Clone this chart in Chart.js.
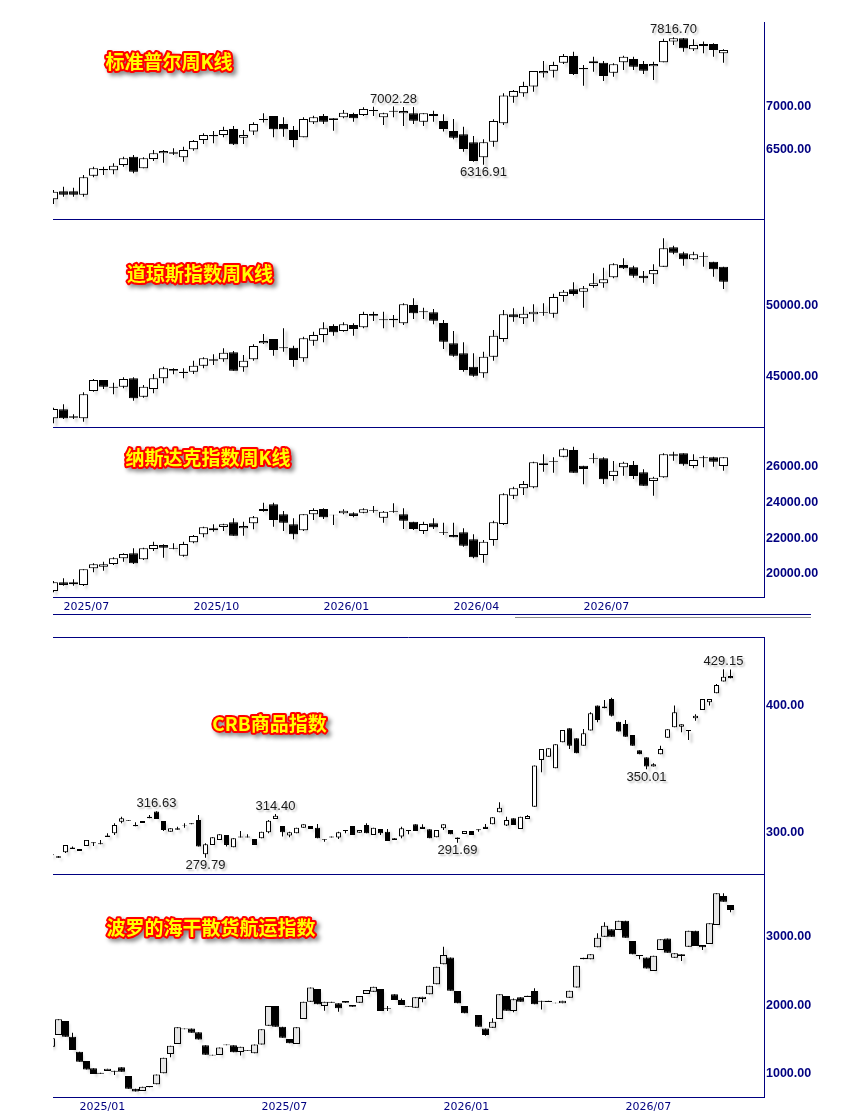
<!DOCTYPE html>
<html>
<head>
<meta charset="utf-8">
<script src="https://cdn.jsdelivr.net/npm/chart.js@4.4.1/dist/chart.umd.min.js"></script>
<style>
  html, body { margin: 0; padding: 0; background: #fff; }
  body { position: relative; width: 842px; height: 1115px; overflow: hidden; }
  canvas { position: absolute; left: 0; }
</style>
</head>
<body>
<canvas id="spx" width="842" height="222" style="top:0px"></canvas>
<canvas id="dow" width="842" height="211" style="top:219px"></canvas>
<canvas id="ndx" width="842" height="195" style="top:427px"></canvas>
<canvas id="crb" width="842" height="252" style="top:625px"></canvas>
<canvas id="bdi" width="842" height="241" style="top:874px"></canvas>
<script>
// ---- weekly candles, top group (same weeks for all three) ----
const spxOpen  = [5909,6003,6003,5964,6187,6266,6250,6313,6411,6274,6384,6450,6462,6403,6497,6607,6666,6666,6737,6635,6706,6843,6890,6796,6725,6639,6815,6890,6863,6874,6914,6902,6949,6874,6941,6921,6921,6823,6914,6831,6713,6674,6580,6403,6588,6804,7118,7157,7236,7393,7424,7518,7597,7455,7534,7518,7400,7522,7561,7503,7475,7522,7766,7805,7675,7715,7738,7628];
const spxHigh  = [6019,6058,6046,6195,6293,6293,6333,6411,6431,6403,6490,6490,6509,6529,6607,6686,6713,6764,6772,6725,6815,6921,6890,6874,6772,6874,6894,6914,6863,6961,6929,6992,6998,6929,7002.28,6995,6995,6921,6953,6910,6855,6764,6655,6615,6851,7157,7196,7294,7420,7538,7530,7620,7648,7491,7589,7538,7510,7601,7589,7538,7530,7800,7816.70,7810,7793,7766,7746,7675];
const spxLow   = [5854,5940,5940,5940,6168,6195,6203,6293,6215,6274,6360,6340,6431,6352,6482,6560,6568,6639,6549,6560,6666,6812,6639,6647,6521,6639,6796,6796,6717,6863,6823,6890,6890,6784,6874,6772,6796,6772,6823,6706,6615,6470,6352,6316.91,6529,6784,7047,7118,7177,7342,7342,7503,7373,7247,7412,7302,7353,7432,7432,7385,7314,7522,7726,7648,7656,7628,7589,7518];
const spxClose = [5999,5964,5964,6168,6274,6250,6305,6391,6234,6391,6450,6478,6446,6490,6596,6666,6651,6725,6556,6666,6796,6855,6733,6733,6607,6855,6874,6823,6843,6929,6863,6973,6961,6921,6953,6949,6835,6921,6890,6737,6635,6501,6360,6580,6831,7130,7185,7243,7420,7420,7491,7597,7385,7440,7510,7361,7499,7589,7471,7424,7503,7773,7805,7687,7726,7738,7667,7667];

const dowOpen  = [42091,42724,42231,42091,44015,44790,44320,44320,44907,43616,44156,44907,45564,45376,45376,45799,46151,46245,46738,45682,46245,47371,47676,47090,47066,46315,47559,47958,48592,48240,48662,48498,49437,48991,49108,48780,50070,49624,49554,48803,47371,46667,45728,45259,46433,47676,49413,49132,49413,49531,49460,50704,51174,51009,51408,51596,52018,52887,52723,52136,52230,52769,54131,53708,53286,53450,53122,52769];
const dowHigh  = [42842,43076,42372,43921,44860,44790,44602,44977,44977,44438,45212,45728,45611,45611,46151,46386,46597,47019,46832,46550,47301,48029,47676,48428,47207,47841,48193,48850,48709,48850,48780,49601,49601,49601,49366,50188,50540,49883,49789,49014,48240,47442,46667,46785,48310,49718,49836,49953,50117,50188,50868,51127,51666,51408,52300,52699,53004,53356,52840,52464,52934,54764,54248,53826,53826,53779,53122,52769];
const dowLow   = [41738,42044,42044,41856,43968,44156,43780,44203,43335,43546,43851,44555,45189,44907,45212,45611,45846,46081,45447,45376,46151,47324,46503,46785,45729,46081,47207,47442,47911,48193,47911,48428,48944,48428,48498,48662,49085,49085,48709,46972,46433,45376,45024,44954,46151,47489,48897,48733,48897,49319,49179,50305,50728,49883,51291,51291,51948,52605,51995,51643,51549,52769,53638,52840,53239,52769,52065,51197];
const dowClose = [42748,42091,42138,43780,44790,44320,44250,44860,43499,44320,44907,45611,45447,45282,45799,46315,46245,46714,45447,46151,47184,47536,46902,47019,46198,47723,47958,48428,48146,48709,48381,49437,49319,49061,48991,50117,49484,49554,48967,47489,46503,45494,45095,46433,47911,49413,49202,49460,49601,49578,50634,51009,50845,51244,51596,51878,52934,52652,52136,51948,52535,54060,53755,53286,53638,53497,52582,51713];

const ndxOpen  = [19047,19533,19533,19383,20318,20412,20561,20879,21159,20823,21402,21627,21421,21028,21776,22224,22561,22636,22897,22561,22841,23533,23907,23346,22785,22449,23346,23645,23327,23402,23402,23440,23570,23159,23477,23346,22935,22411,22841,22337,22187,22337,21944,21066,21907,22804,24393,24804,24860,26206,26318,26579,26953,26075,26486,26486,25495,25981,26112,25701,25215,25421,26710,26766,26056,26486,26542,26056];
const ndxHigh  = [19608,19757,19701,20262,20598,20692,20935,21159,21440,21477,21813,21664,21720,21813,22187,22654,22785,22823,23122,22935,23253,24000,24000,23533,23122,23346,23682,23682,23327,23626,23458,23682,23813,23533,23963,23682,22935,22935,23122,22879,22879,22561,22224,21907,22991,24523,24897,25215,26299,26710,26542,27084,27140,26075,26766,26542,26336,26299,26336,25869,25458,26766,26860,26766,26710,26635,26579,26542];
const ndxLow   = [18973,19346,19346,19327,20094,20187,20505,20692,20561,20786,21290,20916,21384,20972,21720,22056,22374,22411,22150,22150,22505,23496,22654,22411,21944,22411,23028,23084,22748,23346,23178,23402,23440,22879,23440,22524,22468,22243,22524,22187,22056,21533,20879,20636,21589,22748,24206,24430,24804,25738,25682,26542,25682,25028,26206,25047,25234,25514,25327,24953,24393,25402,26355,26075,25925,25981,26019,25794];
const ndxClose = [19533,19383,19421,20262,20543,20543,20879,21122,20598,21440,21627,21477,21458,21683,22131,22617,22449,22785,22150,22692,23178,23645,23028,22879,22224,23346,23589,23178,23290,23552,23253,23626,23533,23496,23514,22991,22524,22804,22617,22299,22056,21589,20935,21813,22897,24467,24804,25047,26262,26112,26280,26991,25682,25888,26449,25308,25794,26243,25495,24953,25402,26710,26635,26150,26392,26542,26299,26542];

// ---- weekly candles, bottom group ----
const crbOpen  = [281.8,279.9,284.2,287.9,285.2,289.2,292.1,291.3,297.4,299.2,308.4,309.5,305.8,309.0,312.4,316.4,309.0,300.5,303.2,305.5,307.1,309.8,282.6,290.0,293.9,297.9,288.1,296.6,296.6,294.7,295.3,300.0,310.6,305.0,297.4,299.2,303.7,305.0,303.7,294.5,296.6,295.8,301.8,305.0,299.7,305.8,297.9,302.6,300.5,295.3,296.6,301.8,306.3,304.5,302.4,296.0,303.2,301.8,295.8,298.7,301.1,302.4,304.5,306.3,315.8,305.3,311.1,302.6,310.6,320.3,357.3,359.9,350.7,371.2,382.3,374.4,368.6,380.5,400.3,399.5,405.5,387.6,385.8,377.0,364.9,359.4,352.0,361.7,374.9,383.1,383.6,381.0,390.2,396.8,402.9,410.0,419.3,423.7];
const crbHigh  = [283.0,281.3,290.0,288.7,286.8,294.0,292.1,293.9,299.2,307.1,312.4,309.6,307.9,309.0,313.7,316.63,309.0,303.2,304.5,307.1,307.1,313.7,291.3,296.0,298.4,297.9,295.3,301.1,298.4,294.7,300.5,309.8,314.40,305.0,300.5,303.7,306.3,305.0,306.6,294.5,296.6,300.5,301.8,305.0,301.8,307.1,303.7,302.6,302.6,295.3,304.5,301.8,306.3,306.3,302.4,301.8,306.3,301.8,295.8,301.1,301.1,302.4,306.6,311.9,323.7,312.4,311.1,312.4,313.7,352.8,366.0,366.5,369.7,381.0,382.3,374.4,381.8,395.0,400.3,404.7,406.6,387.6,388.9,377.0,364.9,359.4,354.6,368.6,381.5,400.3,385.5,381.0,393.4,405.5,405.5,417.4,429.15,428.8];
const crbLow   = [281.5,279.8,283.6,286.8,285.2,289.2,289.2,290.5,296.3,297.9,307.1,308.9,304.7,307.4,311.1,310.6,301.1,300.5,302.1,303.7,306.3,288.7,279.79,290.0,293.9,288.7,288.1,295.8,295.8,290.0,295.3,299.2,310.6,296.6,296.0,299.2,303.7,302.6,295.3,292.6,295.8,294.7,299.2,297.9,299.7,299.2,297.9,297.9,293.1,293.9,295.3,298.4,301.1,302.6,295.3,296.0,301.8,298.4,291.69,298.7,297.9,300.5,302.6,306.3,315.8,305.0,305.8,302.6,310.6,320.3,347.5,359.9,350.7,371.2,366.0,362.5,368.6,380.5,387.1,398.2,391.6,379.7,375.7,368.6,361.7,350.01,352.0,361.7,374.9,383.1,379.2,373.1,388.4,396.8,400.3,410.0,419.3,421.9];
const crbClose = [282.6,281.0,290.0,286.8,286.8,294.0,291.3,290.5,296.3,305.8,311.1,309.0,304.7,307.4,311.1,310.6,301.8,303.2,302.1,305.2,306.3,288.7,290.5,296.0,298.4,290.0,295.3,295.8,295.8,290.0,300.5,309.2,313.2,300.0,300.0,303.7,306.3,302.6,295.3,293.9,295.8,300.0,301.1,297.9,301.8,299.2,303.7,299.2,293.1,293.9,303.2,301.1,301.1,302.6,295.3,301.8,306.3,298.4,294.7,301.1,297.9,301.6,302.6,311.9,319.5,309.8,305.8,312.4,312.9,352.8,366.0,366.5,369.7,381.0,368.6,362.5,378.4,394.2,388.9,398.2,392.3,379.7,375.7,368.6,361.7,352.0,353.8,366.0,381.5,395.0,385.5,380.2,392.3,405.5,405.5,416.6,423.2,421.9];

const bdiOpen  = [1395,1566,1771,1541,1322,1185,1078,1015,1039,1044,1093,966,780,746,820,844,1005,1288,1434,1663,1663,1605,1415,1278,1273,1429,1415,1317,1346,1298,1429,1702,1990,1688,1507,1434,1800,2054,2239,1990,2054,2029,2063,2005,2039,2166,2200,2239,1961,2161,2078,1990,1966,2093,2161,2307,2600,2702,2210,1990,null,1859,1663,1673,1800,2137,1917,2117,2141,2210,2068,2068,2039,2029,2112,2263,2698,2673,2849,3005,3112,3102,3239,2941,2737,2702,2502,2810,2980,2698,2722,2859,3093,2883,2898,3176,3600,3468];
const bdiHigh  = [1517,1795,1771,1600,1322,1185,1078,1015,1073,1044,1093,966,780,810,820,990,1234,1410,1678,1663,1663,1605,1415,1278,1385,1429,1415,1395,1346,1429,1649,1990,1990,1688,1507,1678,2054,2263,2239,2054,2054,2029,2063,2005,2137,2224,2273,2239,1990,2161,2102,1990,2117,2127,2288,2566,2859,2702,2210,1990,null,1859,1663,1810,2161,2137,2102,2117,2141,2249,2068,2068,2039,2068,2215,2580,2698,2746,3054,3215,3112,3239,3239,2941,2737,2702,2727,2966,2980,2761,2746,3093,3093,2883,3200,3639,3639,3468];
const bdiLow   = [1395,1566,1541,1346,1176,1063,995,1000,1039,980,1029,780,741,746,800,844,1005,1239,1434,1649,1600,1502,1278,1268,1273,1415,1312,1268,1337,1298,1429,1702,1688,1527,1444,1434,1800,2054,2015,1922,2039,1907,2039,1980,2039,2166,2200,1917,1917,2078,2005,1980,1966,2044,2161,2307,2600,2215,2029,1883,null,1688,1556,1673,1800,1922,1898,2054,2122,2015,1941,2049,2029,2029,2112,2263,2673,2673,2849,3005,3005,3102,2990,2746,2673,2541,2502,2810,2771,2698,2649,2859,2868,2810,2898,3176,3517,3361];
const bdiClose = [1517,1795,1541,1346,1176,1063,995,1000,1073,1029,1029,780,741,810,800,990,1234,1410,1678,1649,1600,1502,1278,1268,1385,1415,1312,1395,1337,1429,1649,1990,1688,1527,1444,1678,2054,2263,2015,2054,2039,1956,2039,1980,2137,2224,2273,1917,1951,2078,2005,1980,2117,2127,2288,2566,2737,2215,2029,1883,null,1688,1566,1761,2161,1922,2088,2054,2122,2015,2054,2049,2029,2068,2215,2580,2673,2746,2990,3166,3005,3239,2990,2746,2722,2541,2727,2966,2771,2761,2746,3093,2868,2849,3200,3639,3517,3395];

// ---- axis ticks ----
const topTickPos = [1, 14, 27, 40, 53];
const topTickLabels = ['2025/07', '2025/10', '2026/01', '2026/04', '2026/07'];
const bottomTickPos = [4, 30, 56, 82];
const bottomTickLabels = ['2025/01', '2025/07', '2026/01', '2026/07'];
const spxTicks = [6500, 7000];
const dowTicks = [45000, 50000];
const ndxTicks = [20000, 22000, 24000, 26000];
const crbTicks = [300, 400];
const bdiTicks = [1000, 2000, 3000];

const navy = '#000080';

function decorPlugin(cfg) {
  return {
    id: 'decor',
    beforeDatasetsDraw(chart) {
      const ctx = chart.ctx;
      ctx.save();
      ctx.shadowColor = 'rgba(0,0,0,0.4)';
      ctx.shadowBlur = 3;
      ctx.shadowOffsetX = 3;
      ctx.shadowOffsetY = 3;
    },
    afterDatasetsDraw(chart) {
      chart.ctx.restore();
    },
    afterDraw(chart) {
      const ctx = chart.ctx;
      const area = chart.chartArea;
      const xs = chart.scales.x, ys = chart.scales.y;
      ctx.save();
      // extra rules
      (cfg.lines || []).forEach(l => {
        ctx.strokeStyle = l.color;
        ctx.lineWidth = 1;
        ctx.beginPath();
        ctx.moveTo(l.x1, l.y + 0.5);
        ctx.lineTo(l.x2, l.y + 0.5);
        ctx.stroke();
      });
      if (cfg.topRule) {
        ctx.strokeStyle = navy;
        ctx.beginPath();
        ctx.moveTo(area.left, area.top + 0.5);
        ctx.lineTo(area.right, area.top + 0.5);
        ctx.stroke();
      }
      // high / low notes
      ctx.font = "13px 'Liberation Sans'";
      ctx.textAlign = 'center';
      ctx.textBaseline = 'middle';
      ctx.shadowColor = 'rgba(0,0,0,0.25)';
      ctx.shadowBlur = 2;
      ctx.shadowOffsetX = 2;
      ctx.shadowOffsetY = 2;
      ctx.fillStyle = '#1a1a1a';
      (cfg.marks || []).forEach(m => {
        const x = xs.getPixelForValue(m.i);
        const y = ys.getPixelForValue(m.v) + (m.up ? -7.5 : 8);
        ctx.fillText(m.v.toFixed(2), x, y);
      });
      // title
      ctx.font = "bold 19px 'Noto Sans CJK SC'";
      ctx.lineJoin = 'round';
      ctx.shadowColor = 'rgba(0,0,0,0.45)';
      ctx.shadowBlur = 4;
      ctx.shadowOffsetX = 3;
      ctx.shadowOffsetY = 3;
      ctx.strokeStyle = '#ff0000';
      ctx.lineWidth = 4;
      ctx.strokeText(cfg.title, cfg.tx, cfg.ty);
      ctx.shadowColor = 'transparent';
      ctx.fillStyle = '#ffff00';
      ctx.fillText(cfg.title, cfg.tx, cfg.ty);
      ctx.restore();
    }
  };
}

function candleChart(id, cfg) {
  const bodies = [], wicks = [], fills = [];
  cfg.open.forEach((o, i) => {
    if (o === null) return;
    bodies.push({x: i, y: [o, cfg.close[i]]});
    wicks.push({x: i, y: [cfg.low[i], cfg.high[i]]});
    fills.push(cfg.close[i] >= o ? cfg.upColor : '#000000');
  });
  const xLabels = cfg.xLabels || [];
  return new Chart(document.getElementById(id), {
    type: 'bar',
    data: {
      datasets: [
        { data: bodies, backgroundColor: fills, borderColor: '#000', borderWidth: 1, borderSkipped: false,
          barThickness: cfg.body, grouped: false, inflateAmount: 0, order: 0 },
        { data: wicks, backgroundColor: '#000', borderWidth: 0, barThickness: 1, grouped: false, inflateAmount: 0, order: 1 }
      ]
    },
    options: {
      responsive: false,
      animation: false,
      devicePixelRatio: 1,
      layout: { padding: { top: cfg.padTop, left: 53, right: 0, bottom: cfg.padBottom } },
      plugins: { legend: { display: false }, tooltip: { enabled: false } },
      scales: {
        x: {
          type: 'linear', min: cfg.xMin, max: cfg.xMax, offset: false,
          grid: { display: false, drawTicks: false, offset: false },
          border: { display: true, color: navy, width: 1 },
          afterBuildTicks: s => { s.ticks = (cfg.xTicks || []).map(v => ({ value: v })); },
          afterFit: s => { s.height = cfg.xHeight; s.paddingLeft = 0; s.paddingRight = 0; },
          ticks: {
            display: xLabels.length > 0, autoSkip: false, maxRotation: 0, align: 'start', padding: 4,
            color: navy, font: { family: 'DejaVu Sans', size: 11 },
            callback: (v, k) => xLabels[k]
          }
        },
        y: {
          position: 'right', min: cfg.yMin, max: cfg.yMax, beginAtZero: false, bounds: 'data',
          grid: { display: false, drawTicks: false },
          border: { display: true, color: navy, width: 1 },
          afterBuildTicks: s => { s.ticks = cfg.yTicks.map(v => ({ value: v })); },
          afterFit: s => { s.width = 78; s.paddingTop = 0; s.paddingBottom = 0; },
          ticks: {
            padding: 2, color: navy, font: { family: 'Liberation Sans', size: 12.5, weight: 'bold' },
            callback: v => v.toFixed(2)
          }
        }
      }
    },
    plugins: [decorPlugin(cfg.decor)]
  });
}

candleChart('spx', {
  open: spxOpen, high: spxHigh, low: spxLow, close: spxClose, body: 9, upColor: '#ffffff',
  xMin: -0.05, xMax: 71.05, xHeight: 0, yMin: 5677, yMax: 7997, yTicks: spxTicks,
  padTop: 22, padBottom: 3,
  decor: { title: '标准普尔周K线', tx: 169, ty: 62,
    marks: [{ i: 34, v: spxHigh[34], up: true }, { i: 62, v: spxHigh[62], up: true }, { i: 43, v: spxLow[43], up: false }] }
});

candleChart('dow', {
  open: dowOpen, high: dowHigh, low: dowLow, close: dowClose, body: 9, upColor: '#ffffff',
  xMin: -0.05, xMax: 71.05, xHeight: 0, yMin: 41479, yMax: 56127, yTicks: dowTicks,
  padTop: 0, padBottom: 3,
  decor: { title: '道琼斯指数周K线', tx: 200, ty: 54.5 }
});

candleChart('ndx', {
  open: ndxOpen, high: ndxHigh, low: ndxLow, close: ndxClose, body: 9, upColor: '#ffffff',
  xMin: -0.05, xMax: 71.05, xHeight: 25, yMin: 18710, yMax: 28243, yTicks: ndxTicks,
  xTicks: topTickPos, xLabels: topTickLabels,
  padTop: 0, padBottom: 0,
  decor: { title: '纳斯达克指数周K线', tx: 208, ty: 31,
    lines: [{ x1: 53, x2: 811, y: 187, color: navy }, { x1: 515, x2: 811, y: 190, color: '#8a8a8a' }] }
});

candleChart('crb', {
  open: crbOpen, high: crbHigh, low: crbLow, close: crbClose, body: 5, upColor: '#ffffff',
  xMin: 0.2143, xMax: 101.7857, xHeight: 0, yMin: 267.0, yMax: 454.6, yTicks: crbTicks,
  padTop: 12, padBottom: 3,
  decor: { title: 'CRB商品指数', tx: 269.5, ty: 99, topRule: true,
    marks: [{ i: 15, v: crbHigh[15], up: true }, { i: 22, v: crbLow[22], up: false },
            { i: 32, v: crbHigh[32], up: true }, { i: 58, v: crbLow[58], up: false },
            { i: 85, v: crbLow[85], up: false }, { i: 96, v: crbHigh[96], up: true }] }
});

candleChart('bdi', {
  open: bdiOpen, high: bdiHigh, low: bdiLow, close: bdiClose, body: 7, upColor: '#e6e6e6',
  xMin: 0.2143, xMax: 101.7857, xHeight: 18, yMin: 659, yMax: 3922, yTicks: bdiTicks,
  xTicks: bottomTickPos, xLabels: bottomTickLabels,
  padTop: 0, padBottom: 0,
  decor: { title: '波罗的海干散货航运指数', tx: 211, ty: 53.5 }
});
</script>
</body>
</html>
